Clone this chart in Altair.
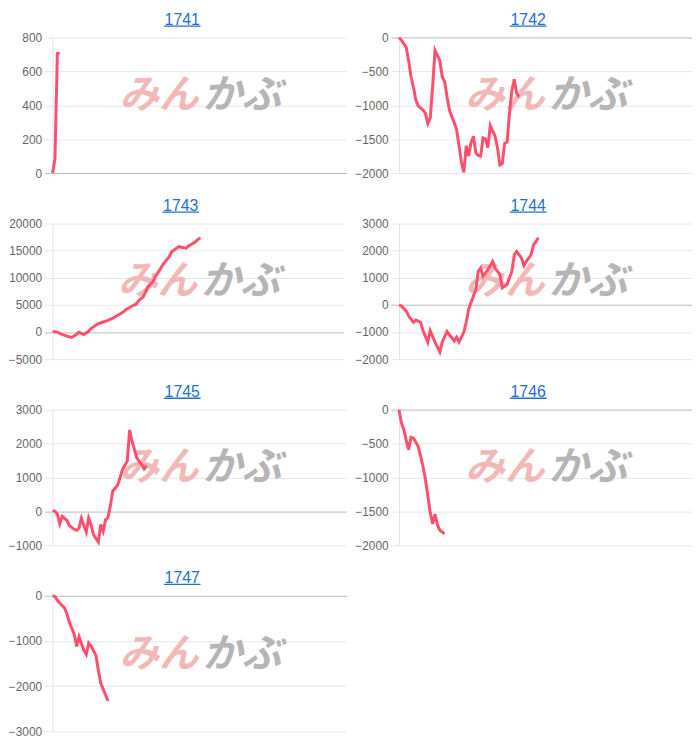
import altair as alt
import pandas as pd

years = ["1741", "1742", "1743", "1744", "1745", "1746", "1747"]

x_1741 = [0, 1, 2, 3]
y_1741 = [0, 82, 705, 708]

x_1742 = [0, 1, 3, 4, 5, 6, 7, 8, 10, 11, 12, 13, 14, 15, 17, 18, 19, 20, 21, 23, 24, 25, 26, 27,
          28, 29, 30, 31, 32, 33, 34, 35, 36, 37, 38, 40, 41, 42, 43, 44, 45, 46, 47, 48, 49, 50]
y_1742 = [0, -40, -146, -340, -580, -730, -920, -1010, -1070, -1115, -1270, -1190, -730, -190,
          -340, -580, -650, -875, -1070, -1260, -1360, -1600, -1845, -1990, -1600, -1750, -1550,
          -1456, -1700, -1740, -1750, -1480, -1495, -1625, -1300, -1456, -1625, -1880, -1860,
          -1563, -1543, -1115, -777, -617, -825, -875]

x_1743 = [0, 2, 4, 6, 8, 10, 11, 13, 15, 16, 18, 19, 21, 23, 25, 27, 29, 31, 33, 35, 36, 38, 39,
          40, 42, 43, 45, 46, 47, 49, 50, 52, 53, 54, 56, 57, 59, 60, 61, 62]
y_1743 = [100, -20, -450, -750, -1000, -450, 0, -450, 100, 600, 1190, 1490, 1800, 2100, 2520,
          3000, 3500, 4200, 4700, 5130, 5740, 6470, 7380, 8350, 9200, 10170, 11500, 12230, 12840,
          13930, 14840, 15450, 15750, 15630, 15450, 15870, 16360, 16660, 17090, 17390]

x_1744 = [0, 1, 3, 4, 6, 7, 9, 10, 12, 13, 15, 17, 18, 20, 21, 23, 24, 25, 27, 28, 29, 31, 32,
          33, 34, 35, 37, 39, 40, 42, 43, 45, 47, 48, 49, 51, 52, 53, 55, 56, 57, 58]
y_1744 = [0, -36, -220, -400, -640, -560, -640, -950, -1370, -950, -1370, -1730, -1370, -980,
          -1100, -1330, -1190, -1370, -1000, -640, -160, 330, 570, 1240, 1360, 1060, 1300, 1600,
          1360, 1120, 630, 750, 1240, 1850, 1970, 1730, 1450, 1600, 1850, 2210, 2330, 2480]

x_1745 = [0, 1, 2, 3, 4, 6, 7, 9, 10, 11, 12, 13, 14, 15, 16, 17, 19, 20, 21, 22, 23, 24, 25,
          27, 28, 29, 31, 32, 33, 34, 35, 37, 38, 39]
y_1745 = [20, 0, -80, -370, -150, -270, -420, -530, -560, -490, -200, -420, -610, -200, -400,
          -690, -900, -390, -590, -250, -180, 165, 600, 770, 990, 1230, 1480, 2400, 2060, 1820,
          1570, 1380, 1250, 1350]

x_1746 = [0, 1, 2, 3, 4, 5, 6, 7, 8, 9, 10, 11, 12, 13, 14, 15, 16, 17, 19]
y_1746 = [0, -200, -290, -450, -590, -410, -420, -480, -545, -690, -835, -1030, -1270, -1515,
          -1685, -1540, -1700, -1780, -1830]

x_1747 = [0, 1, 2, 3, 5, 6, 7, 9, 10, 11, 13, 14, 15, 16, 18, 19, 20, 22, 23]
y_1747 = [0, -15, -100, -160, -270, -410, -590, -850, -1120, -905, -1210, -1300, -1050, -1120,
          -1320, -1645, -1935, -2190, -2330]

series_x = [x_1741, x_1742, x_1743, x_1744, x_1745, x_1746, x_1747]
series_y = [y_1741, y_1742, y_1743, y_1744, y_1745, y_1746, y_1747]

y_ticks = [
    [0, 200, 400, 600, 800],
    [-2000, -1500, -1000, -500, 0],
    [-5000, 0, 5000, 10000, 15000, 20000],
    [-2000, -1000, 0, 1000, 2000, 3000],
    [-1000, 0, 1000, 2000, 3000],
    [-2000, -1500, -1000, -500, 0],
    [-3000, -2000, -1000, 0],
]
panel_widths = [297, 296, 294, 296, 297, 296, 297]

X_DOMAIN = [0, 122]
H = 137
LINE_COLOR = "#ff4f6d"
TITLE_COLOR = "#1f6fd1"
FONT = "Liberation Sans"
grid_color = {"condition": {"test": "datum.value === 0", "value": "#b8b8b8"}, "value": "#e6e6e6"}


def panel(year, xs, ys, ticks, w):
    df = pd.DataFrame({"x": xs, "y": ys})
    one = pd.DataFrame({"k": [0]})
    yaxis = alt.Axis(
        values=ticks, title=None, labelFont=FONT, labelFontSize=12, labelColor="#666666",
        labelPadding=3, tickSize=8, tickColor=grid_color, gridColor=grid_color,
        domainColor="#e3e3e3", minExtent=42, labelFlush=False, format="d",
    )
    line = alt.Chart(df).mark_line(color=LINE_COLOR, strokeWidth=3).encode(
        x=alt.X("x:Q", scale=alt.Scale(domain=X_DOMAIN), axis=None),
        y=alt.Y("y:Q", scale=alt.Scale(domain=[ticks[0], ticks[-1]], nice=False, zero=False),
                axis=yaxis),
    )
    cx = w / 2
    wm1 = alt.Chart(one).mark_text(
        text="みん", font="Noto Sans CJK JP", fontSize=40, fontWeight="bold", fontStyle="italic",
        color="#f2b8b8", align="right", baseline="middle",
    ).encode(x=alt.value(cx - 1), y=alt.value(H / 2 - 9))
    wm2 = alt.Chart(one).mark_text(
        text="かぶ", font="Noto Sans CJK JP", fontSize=40, fontWeight="bold", fontStyle="italic",
        color="#b5b5b5", align="left", baseline="middle",
    ).encode(x=alt.value(cx + 3), y=alt.value(H / 2 - 9))
    tx = w / 2 - 17.5
    title = alt.Chart(one).mark_text(
        text=year, font=FONT, fontSize=16, color=TITLE_COLOR, align="center",
        baseline="alphabetic",
    ).encode(x=alt.value(tx), y=alt.value(-13))
    underline = alt.Chart(one).mark_rule(color=TITLE_COLOR, strokeWidth=1.3).encode(
        x=alt.value(tx - 18.5), x2=alt.value(tx + 18.5), y=alt.value(-11.5)
    )
    return alt.layer(wm1, wm2, line, title, underline).properties(width=w, height=H)


panels = [panel(years[i], series_x[i], series_y[i], y_ticks[i], panel_widths[i])
          for i in range(len(years))]

chart = alt.concat(*panels, columns=2, spacing={"row": 19, "column": 8}).properties(
    padding={"left": 0, "top": 0, "right": 0, "bottom": 0}
).configure_view(stroke=None)

chart.save("out.html", embed_options={"renderer": "svg", "actions": False})
